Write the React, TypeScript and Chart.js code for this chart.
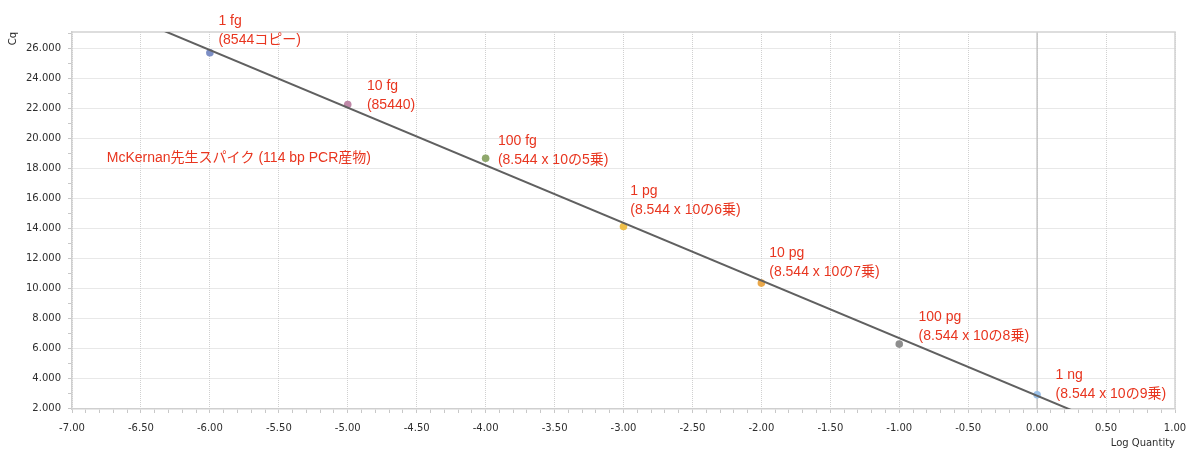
import React, { useEffect, useRef } from 'react';
import { Chart, registerables } from 'chart.js';

Chart.register(...registerables);

// ---- data ----
const logQuantity = [-6, -5, -4, -3, -2, -1, 0];
const cqValues = [25.73, 22.27, 18.69, 14.13, 10.36, 6.29, 2.91];
const pointColors = ['#7d8fc6', '#bf88a8', '#8fa86c', '#efc04a', '#eaa84a', '#8e8e8e', '#9cc2ea'];

// standard-curve fit line (end points across the x range)
const fitX = [-7, 1];
const fitY = [29.75, -1.0];

// axis ticks
const xMajorTicks = [-7, -6.5, -6, -5.5, -5, -4.5, -4, -3.5, -3, -2.5, -2, -1.5, -1, -0.5, 0, 0.5, 1];
const yMajorTicks = [2, 4, 6, 8, 10, 12, 14, 16, 18, 20, 22, 24, 26];
const xMinorStep = 0.1;
const yMinorStep = 1;
const xRange = [-7, 1];
const yRange = [1.96, 27.11];

// point annotations
const labelLine1 = ['1 fg', '10 fg', '100 fg', '1 pg', '10 pg', '100 pg', '1 ng'];
const labelLine2 = [
  '(8544コピー)',
  '(85440)',
  '(8.544 x 10の5乗)',
  '(8.544 x 10の6乗)',
  '(8.544 x 10の7乗)',
  '(8.544 x 10の8乗)',
  '(8.544 x 10の9乗)',
];
const labelX = [-5.938, -4.861, -3.911, -2.951, -1.943, -0.86, 0.134];
const labelY = [27.82, 23.52, 19.85, 16.49, 12.34, 8.07, 4.25];
const noteText = 'McKernan先生スパイク (114 bp PCR産物)';
const noteX = -6.748;
const noteY = 18.7;

const xTitle = 'Log Quantity';
const yTitle = 'Cq';

const TICK_FONT = { family: '"DejaVu Sans", Verdana, sans-serif', size: 10 };
const TICK_COLOR = '#2e2e2e';
const ANNO_FONT = '14px "Liberation Sans", "Noto Sans CJK JP", sans-serif';
const ANNO_COLOR = '#e8351f';

const isMajor = (v: number, list: number[]) => list.some((m) => Math.abs(m - v) < 1e-6);

const framePlugin = {
  id: 'frame',
  beforeDatasetsDraw(chart: any) {
    const { ctx, chartArea } = chart;
    const xs = chart.scales.x;
    ctx.save();
    // zero line
    const x0 = xs.getPixelForValue(0);
    ctx.strokeStyle = '#c4c4c4';
    ctx.lineWidth = 1.5;
    ctx.setLineDash([]);
    ctx.beginPath();
    ctx.moveTo(x0, chartArea.top);
    ctx.lineTo(x0, chartArea.bottom);
    ctx.stroke();
    // top and right frame
    ctx.strokeStyle = '#d2d2d2';
    ctx.lineWidth = 1.5;
    ctx.beginPath();
    ctx.moveTo(chartArea.left, chartArea.top);
    ctx.lineTo(chartArea.right, chartArea.top);
    ctx.lineTo(chartArea.right, chartArea.bottom);
    ctx.stroke();
    ctx.restore();
  },
};

const annoPlugin = {
  id: 'annotations',
  afterDraw(chart: any) {
    const { ctx } = chart;
    const xs = chart.scales.x;
    const ys = chart.scales.y;
    ctx.save();
    ctx.font = ANNO_FONT;
    ctx.fillStyle = ANNO_COLOR;
    ctx.textAlign = 'left';
    ctx.textBaseline = 'middle';
    for (let i = 0; i < labelLine1.length; i++) {
      const px = xs.getPixelForValue(labelX[i]);
      const py = ys.getPixelForValue(labelY[i]);
      ctx.fillText(labelLine1[i], px, py);
      ctx.fillText(labelLine2[i], px, py + 19);
    }
    ctx.fillText(noteText, xs.getPixelForValue(noteX), ys.getPixelForValue(noteY));
    ctx.restore();
  },
};

export default function App() {
  const canvasRef = useRef<HTMLCanvasElement | null>(null);

  useEffect(() => {
    if (!canvasRef.current) return;
    const chart = new Chart(canvasRef.current, {
      type: 'scatter',
      data: {
        datasets: [
          {
            type: 'line',
            label: 'fit',
            data: fitX.map((x, i) => ({ x, y: fitY[i] })),
            borderColor: '#606060',
            borderWidth: 2,
            pointRadius: 0,
            showLine: true,
            fill: false,
            order: 0,
          } as any,
          {
            type: 'scatter',
            label: 'standards',
            data: logQuantity.map((x, i) => ({ x, y: cqValues[i] })),
            pointBackgroundColor: pointColors,
            pointBorderColor: pointColors,
            pointBorderWidth: 0,
            pointRadius: 3.8,
            order: 1,
          },
        ],
      },
      options: {
        responsive: false,
        animation: false,
        events: [],
        layout: { padding: { top: 32, right: 25, bottom: 0, left: 0 } },
        plugins: {
          legend: { display: false },
          tooltip: { enabled: false },
        },
        scales: {
          x: {
            type: 'linear',
            min: xRange[0],
            max: xRange[1],
            afterBuildTicks: (scale: any) => {
              const n = Math.round((xRange[1] - xRange[0]) / xMinorStep);
              const t = [];
              for (let i = 0; i <= n; i++) t.push({ value: Math.round((xRange[0] + i * xMinorStep) * 100) / 100 });
              scale.ticks = t;
            },
            afterFit: (scale: any) => {
              scale.height = 57;
            },
            ticks: {
              autoSkip: false,
              maxRotation: 0,
              padding: 9,
              font: TICK_FONT,
              color: TICK_COLOR,
              callback: (v: any) => (isMajor(Number(v), xMajorTicks) ? Number(v).toFixed(2) : ''),
            },
            grid: {
              color: (c: any) => (c.tick && isMajor(c.tick.value, xMajorTicks) ? '#d0d0d0' : 'rgba(0,0,0,0)'),
              lineWidth: 1,
              tickLength: 4,
              tickColor: '#c8c8c8',
              drawTicks: true,
            },
            border: { display: true, color: '#cfcfcf', width: 1.5, dash: [1, 1] },
            title: {
              display: true,
              text: xTitle,
              align: 'end',
              color: TICK_COLOR,
              font: TICK_FONT,
              padding: { top: 0, bottom: 17 },
            },
          },
          y: {
            type: 'linear',
            min: yRange[0],
            max: yRange[1],
            afterBuildTicks: (scale: any) => {
              const t = [];
              for (let v = Math.ceil(yRange[0]); v <= yRange[1]; v += yMinorStep) t.push({ value: v });
              scale.ticks = t;
            },
            afterFit: (scale: any) => {
              scale.width = 72;
            },
            ticks: {
              autoSkip: false,
              padding: 7,
              font: TICK_FONT,
              color: TICK_COLOR,
              callback: (v: any) => (isMajor(Number(v), yMajorTicks) ? Number(v).toFixed(3) : ''),
            },
            grid: {
              color: (c: any) => (c.tick && isMajor(c.tick.value, yMajorTicks) ? '#d0d0d0' : 'rgba(0,0,0,0)'),
              lineWidth: 1,
              tickLength: 4,
              tickColor: '#c8c8c8',
              drawTicks: true,
            },
            border: { display: true, color: '#cfcfcf', width: 1.5, dash: [1, 1] },
            title: {
              display: true,
              text: yTitle,
              align: 'end',
              color: TICK_COLOR,
              font: TICK_FONT,
              padding: { top: 7, bottom: 0 },
            },
          },
        },
      },
      plugins: [framePlugin, annoPlugin],
    });
    return () => chart.destroy();
  }, []);

  return (
    <div style={{ position: 'absolute', left: 0, top: 0, width: 1200, height: 466, background: '#ffffff' }}>
      <canvas ref={canvasRef} width={1200} height={466} />
    </div>
  );
}
